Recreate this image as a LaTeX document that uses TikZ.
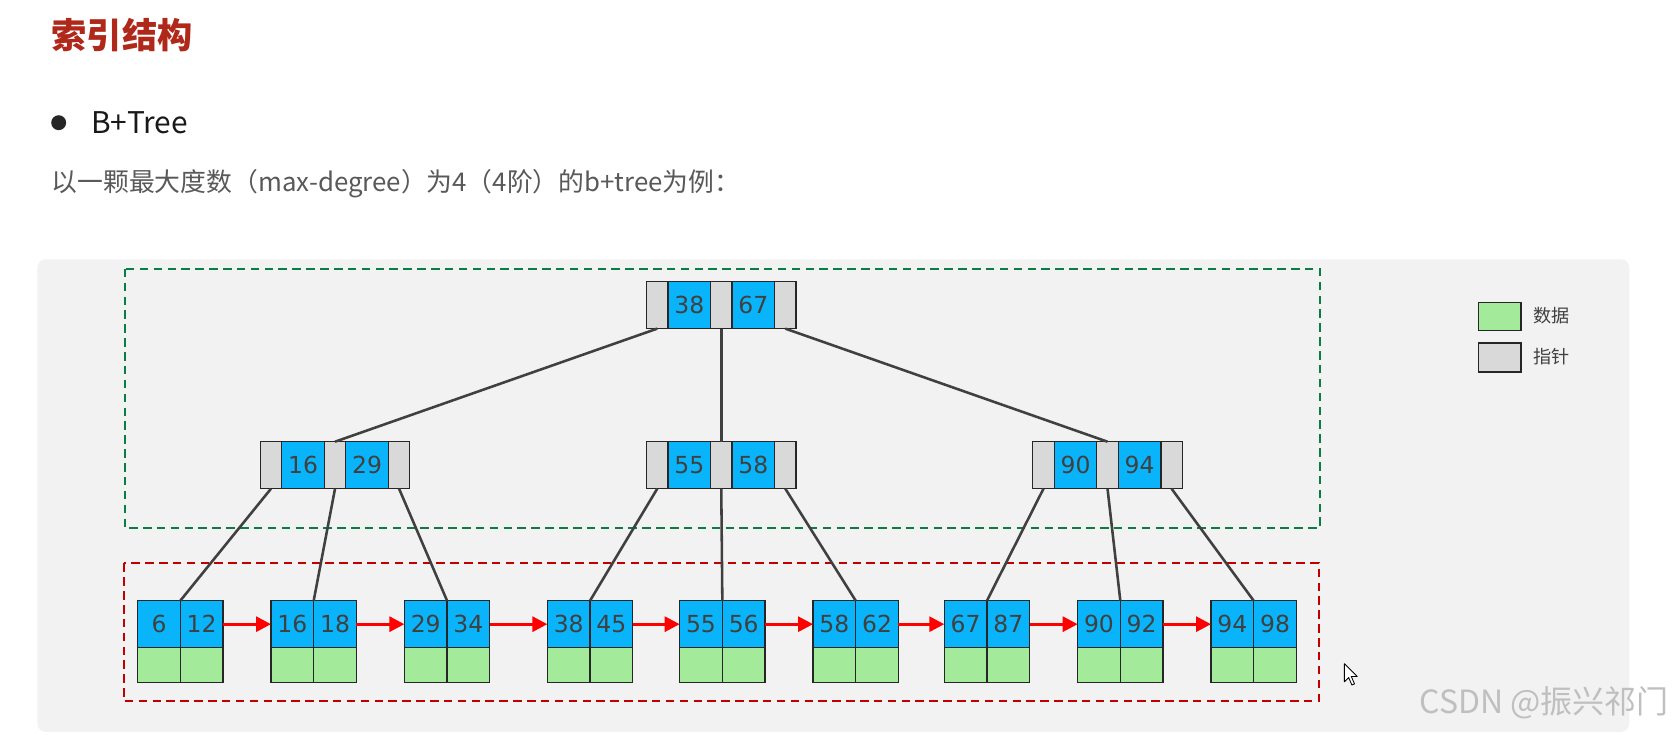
\documentclass[tikz,border=0pt]{standalone}
\usepackage{fontspec}
\setmainfont{Noto Sans CJK SC}
\newfontfamily\numfont{DejaVu Sans}
\usetikzlibrary{arrows.meta}
\definecolor{keyblue}{HTML}{0AB4FA}
\definecolor{ptrgray}{HTML}{D9D9D9}
\definecolor{datagreen}{HTML}{A3EB9B}
\definecolor{panelgray}{HTML}{F2F2F2}
\definecolor{titlered}{HTML}{B0281A}
\definecolor{boxgreen}{HTML}{0A7D45}
\definecolor{boxred}{HTML}{C00000}
\definecolor{linkgray}{HTML}{404040}
\definecolor{txtgray}{HTML}{595959}
\tikzset{
 cell/.style={draw=black!85, line width=0.6pt, inner sep=0pt, outer sep=0pt, anchor=north west, minimum height=22pt},
 ptrcell/.style={cell, fill=ptrgray, minimum width=10pt},
 keycell/.style={cell, fill=keyblue, minimum width=20pt, font=\numfont\fontsize{11}{11}\selectfont, text=linkgray},
 datacell/.style={cell, fill=datagreen, minimum width=20pt, minimum height=16.5pt},
 link/.style={draw=linkgray, line width=1.2pt},
 nextarrow/.style={draw=red, line width=1.4pt, -{Triangle[length=7pt,width=7pt]}},
 zonebox/.style={dash pattern=on 4pt off 2.5pt, line width=1pt},
 plaintext/.style={anchor=west, inner sep=0pt},
}
\newcommand\innode[5]{%
 \node[ptrcell] (#1p1) at (#2,#3) {};
 \node[keycell] (#1k1) at (#1p1.north east) {#4};
 \node[ptrcell] (#1p2) at (#1k1.north east) {};
 \node[keycell] (#1k2) at (#1p2.north east) {#5};
 \node[ptrcell] (#1p3) at (#1k2.north east) {};
}
\newcommand\leafnode[5]{%
 \node[keycell] (#1a) at (#2,#3) {#4};
 \node[keycell] (#1b) at (#1a.north east) {#5};
 \node[datacell] (#1c) at (#1a.south west) {};
 \node[datacell] (#1d) at (#1b.south west) {};
}
\begin{document}
\begin{tikzpicture}[x=0.5pt,y=-0.5pt]
\fill[white] (0,0) rectangle (1568,688);
\clip (0,0) rectangle (1568,688);
% header texts
\node[plaintext, text=titlered, font=\bfseries\fontsize{16.5}{18}\selectfont] (title) at (48,33) {索引结构};
\node[circle, fill=black!85, minimum size=7pt, inner sep=0pt] (bullet) at (55,115) {};
\node[plaintext, text=black!90, font=\fontsize{14}{16}\selectfont] (btree) at (85,115) {B+Tree};
\node[plaintext, text=txtgray, font=\fontsize{12.1}{14}\selectfont] (intro) at (48,172) {以一颗最大度数（max-degree）为4（4阶）的b+tree为例：};
% panel
\fill[panelgray, rounded corners=4pt] (35,243) rectangle (1527,686);
\draw[zonebox, boxgreen] (117,252) rectangle (1237,495);
\draw[zonebox, boxred] (116,528) rectangle (1236,657);
% inner nodes
\innode{R}{606}{264}{38}{67}
\innode{A}{244}{414}{16}{29}
\innode{B}{606}{414}{55}{58}
\innode{C}{968}{414}{90}{94}
% leaves
\leafnode{La}{129}{563}{6}{12}
\leafnode{Lb}{254}{563}{16}{18}
\leafnode{Lc}{379}{563}{29}{34}
\leafnode{Ld}{513}{563}{38}{45}
\leafnode{Le}{637}{563}{55}{56}
\leafnode{Lf}{762}{563}{58}{62}
\leafnode{Lg}{885}{563}{67}{87}
\leafnode{Lh}{1010}{563}{90}{92}
\leafnode{Li}{1135}{563}{94}{98}
% tree links
\draw[link] (Rp1.south) -- (Ap2.north);
\draw[link] (Rp2.south) -- (Bp2.north);
\draw[link] (Rp3.south) -- (Cp2.north);
\draw[link] (Ap1.south) -- (Laa.north east);
\draw[link] (Ap2.south) -- (Lba.north east);
\draw[link] (Ap3.south) -- (Lca.north east);
\draw[link] (Bp1.south) -- (Lda.north east);
\draw[link] (Bp2.south) -- (Lea.north east);
\draw[link] (Bp3.south) -- (Lfa.north east);
\draw[link] (Cp1.south) -- (Lga.north east);
\draw[link] (Cp2.south) -- (Lha.north east);
\draw[link] (Cp3.south) -- (Lia.north east);
% leaf chain
\draw[nextarrow] (Lab.east) -- (Lba.west);
\draw[nextarrow] (Lbb.east) -- (Lca.west);
\draw[nextarrow] (Lcb.east) -- (Lda.west);
\draw[nextarrow] (Ldb.east) -- (Lea.west);
\draw[nextarrow] (Leb.east) -- (Lfa.west);
\draw[nextarrow] (Lfb.east) -- (Lga.west);
\draw[nextarrow] (Lgb.east) -- (Lha.west);
\draw[nextarrow] (Lhb.east) -- (Lia.west);
% legend
\node[draw=black!85, fill=datagreen, line width=0.6pt, minimum width=20pt, minimum height=13pt, anchor=north west, inner sep=0pt] (lgdata) at (1385,283) {};
\node[plaintext, text=black!75, font=\fontsize{8.5}{9}\selectfont] (lgdatatext) at (1437,296) {数据};
\node[draw=black!85, fill=ptrgray, line width=0.6pt, minimum width=20pt, minimum height=13.5pt, anchor=north west, inner sep=0pt] (lgptr) at (1385,321) {};
\node[plaintext, text=black!75, font=\fontsize{8.5}{9}\selectfont] (lgptrtext) at (1437,334) {指针};
% cursor
\draw[fill=white, line width=0.4pt, line join=round] (1260,622) -- ++(0,17) -- ++(4,-4) -- ++(3,7) -- ++(2.5,-1) -- ++(-3,-7) -- ++(5.5,0) -- cycle;
% watermark
\node[plaintext, text=black!25, font=\fontsize{15}{15}\selectfont] (wm) at (1330,659) {CSDN @振兴祁门};
\end{tikzpicture}
\end{document}
